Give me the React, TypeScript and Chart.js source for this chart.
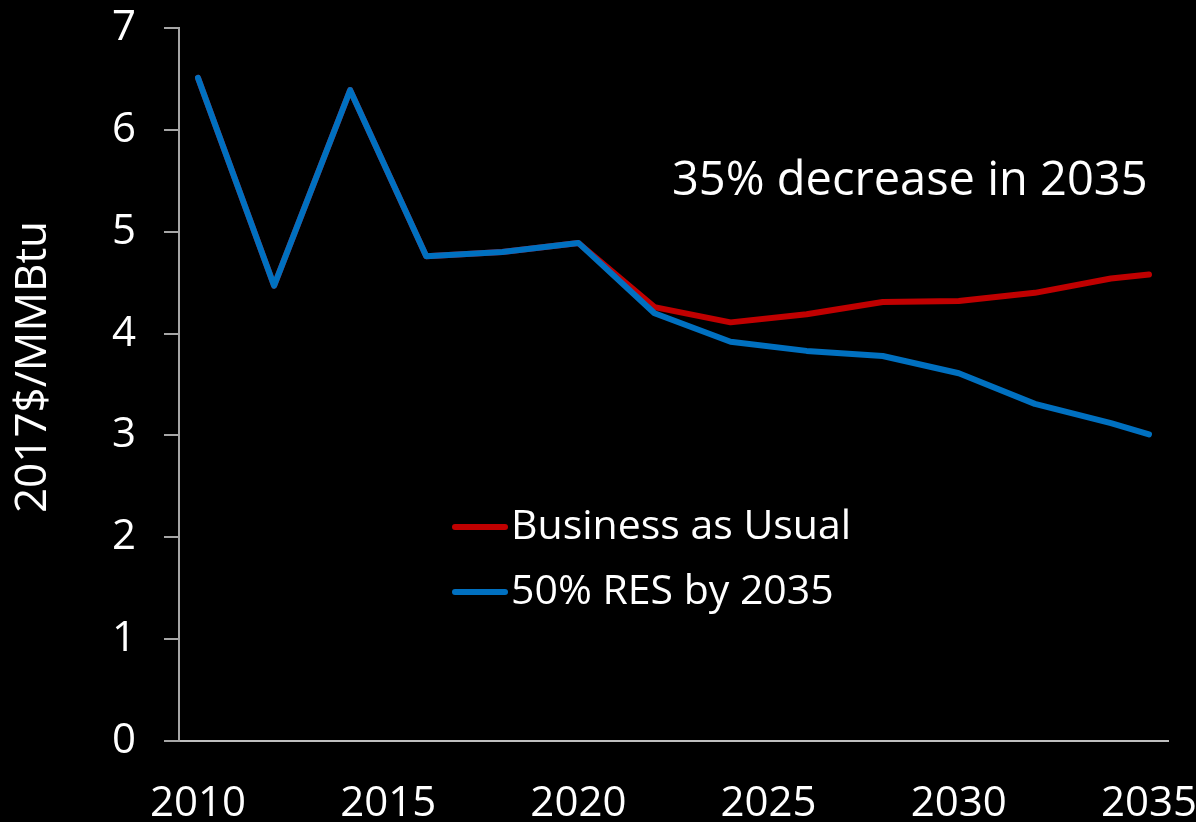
import React, { useEffect, useRef } from "react";
import { Chart, registerables } from "chart.js";

Chart.register(...registerables);

const years = [2010, 2012, 2014, 2016, 2018, 2020, 2022, 2024, 2026, 2028, 2030, 2032, 2034, 2035];
const bauValues = [6.51, 4.47, 6.39, 4.76, 4.8, 4.89, 4.26, 4.11, 4.19, 4.31, 4.32, 4.4, 4.54, 4.58];
const resValues = [6.51, 4.47, 6.39, 4.76, 4.8, 4.89, 4.2, 3.92, 3.83, 3.78, 3.61, 3.31, 3.12, 3.01];
const xTicks = [2010, 2015, 2020, 2025, 2030, 2035];
const seriesLabels = ["Business as Usual", "50% RES by 2035"];
const annotationText = "35% decrease in 2035";
const yTitle = "2017$/MMBtu";

const FONT = "'Open Sans', sans-serif";

export default function App() {
  const ref = useRef<HTMLCanvasElement | null>(null);

  useEffect(() => {
    document.body.style.margin = "0";
    document.body.style.background = "#000";
    const ctx = ref.current!.getContext("2d")!;

    const overlay = {
      id: "overlay",
      afterDatasetsDraw(chart: any) {
        const c = chart.ctx;
        c.save();
        c.fillStyle = "#fff";
        c.textBaseline = "middle";
        c.textAlign = "left";
        c.font = `47px ${FONT}`;
        c.fillText(annotationText, 672, 182);
        c.font = `41px ${FONT}`;
        const rows = [527, 592];
        chart.data.datasets.forEach((ds: any, i: number) => {
          const y = rows[i];
          c.strokeStyle = ds.borderColor;
          c.lineWidth = 6;
          c.lineCap = "round";
          c.beginPath();
          c.moveTo(455, y);
          c.lineTo(505, y);
          c.stroke();
          c.fillStyle = "#fff";
          c.fillText(ds.label, 511, y);
        });
        // y axis title
        c.save();
        c.translate(33, 367);
        c.rotate(-Math.PI / 2);
        c.textAlign = "center";
        c.font = `44px ${FONT}`;
        c.fillText(yTitle, 0, 0);
        c.restore();
        c.restore();
      },
    };

    const chart = new Chart(ctx, {
      type: "line",
      data: {
        datasets: [
          {
            label: seriesLabels[0],
            data: years.map((x, i) => ({ x, y: bauValues[i] })),
            borderColor: "#C00000",
            borderWidth: 6,
            pointRadius: 0,
            borderCapStyle: "round",
            borderJoinStyle: "round",
            tension: 0,
            order: 1,
          },
          {
            label: seriesLabels[1],
            data: years.map((x, i) => ({ x, y: resValues[i] })),
            borderColor: "#0070C0",
            borderWidth: 6,
            pointRadius: 0,
            borderCapStyle: "round",
            borderJoinStyle: "round",
            tension: 0,
            order: 0,
          },
        ],
      },
      options: {
        animation: false,
        responsive: false,
        maintainAspectRatio: false,
        layout: { padding: { top: 28, right: 28, left: 0, bottom: 0 } },
        plugins: { legend: { display: false }, tooltip: { enabled: false } },
        scales: {
          x: {
            type: "linear",
            min: 2009.5,
            max: 2035.5,
            afterFit: (s: any) => {
              s.height = 81;
              s.paddingLeft = 0;
              s.paddingRight = 0;
            },
            afterBuildTicks: (s: any) => {
              s.ticks = xTicks.map((v) => ({ value: v }));
            },
            border: { display: true, color: "#bfbfbf", width: 2 },
            grid: { display: false, drawOnChartArea: false, drawTicks: false },
            ticks: {
              color: "#fff",
              font: { family: FONT, size: 42 },
              padding: 38,
              maxRotation: 0,
              autoSkip: false,
              callback: (v: any) => String(v),
            },
          },
          y: {
            min: 0,
            max: 7,
            afterFit: (s: any) => {
              s.width = 179;
              s.paddingTop = 0;
              s.paddingBottom = 0;
            },
            border: { display: true, color: "#a6a6a6", width: 2 },
            grid: { drawOnChartArea: false, drawTicks: true, tickLength: 15, color: "#a6a6a6", lineWidth: 2 },
            ticks: {
              stepSize: 1,
              color: "#fff",
              font: { family: FONT, size: 42 },
              padding: 28,
            },
          },
        },
      },
      plugins: [overlay],
    } as any);

    return () => chart.destroy();
  }, []);

  return (
    <div style={{ position: "fixed", left: 0, top: 0, width: 1196, height: 822, background: "#000" }}>
      <canvas ref={ref} width={1196} height={822} style={{ display: "block", width: 1196, height: 822 }} />
    </div>
  );
}
